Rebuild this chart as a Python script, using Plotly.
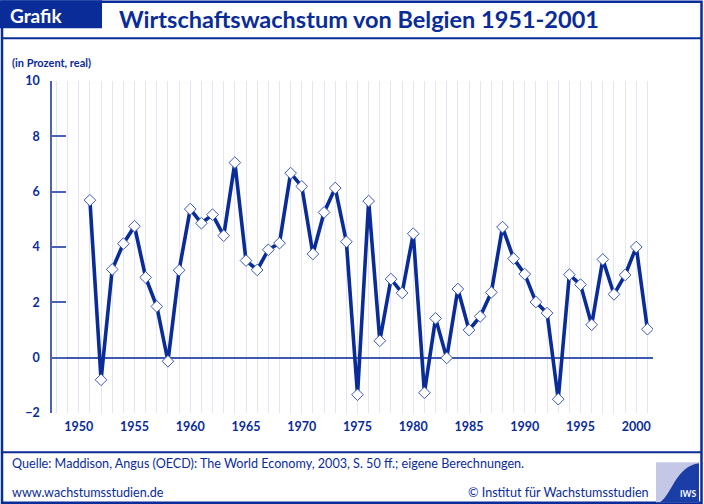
import plotly.graph_objects as go

years = list(range(1951, 2002))
growth = [5.69, -0.80, 3.19, 4.12, 4.75, 2.90, 1.85, -0.13, 3.16, 5.37,
          4.86, 5.17, 4.41, 7.05, 3.51, 3.17, 3.90, 4.14, 6.67, 6.19,
          3.75, 5.25, 6.13, 4.19, -1.34, 5.66, 0.61, 2.84, 2.34, 4.48,
          -1.27, 1.42, -0.01, 2.48, 1.00, 1.49, 2.36, 4.72, 3.58, 3.02,
          2.01, 1.61, -1.50, 3.00, 2.64, 1.19, 3.55, 2.29, 2.99, 4.00,
          1.03]
x_ticks = list(range(1950, 2001, 5))
y_ticks = list(range(-2, 11, 2))

W, H = 704, 504
L, R, T, B = 52, 653, 80.7, 412.7
DARK = "#0a2c98"
AXIS = "#4a62b6"
FONT = "Lato"

def px(x):
    return (x - L) / (R - L)

def py(y):
    return (B - y) / (B - T)

def pt(a, b):
    return f"{px(a):.5f},{py(b):.5f}"

fig = go.Figure()
fig.add_trace(go.Scatter(
    x=years, y=growth, mode="lines+markers",
    line=dict(color=DARK, width=3.6),
    marker=dict(symbol="diamond", size=9, color="white",
                line=dict(color="#3a58b8", width=1)),
    showlegend=False, hoverinfo="x+y"))

fig.update_layout(
    width=W, height=H, autosize=False,
    margin=dict(l=L, r=W - R, t=T, b=H - B, pad=0),
    paper_bgcolor="white", plot_bgcolor="white",
    font=dict(family=FONT, color=DARK),
    xaxis=dict(range=[1947.6, 2001.5], tickvals=x_ticks,
               showgrid=True, gridcolor="#e4e4f3", gridwidth=1,
               minor=dict(dtick=1, tick0=1950, showgrid=True,
                          gridcolor="#e4e4f3", gridwidth=1),
               showline=False, zeroline=False, ticks="",
               tickfont=dict(family=FONT, size=12.5, color=DARK, weight="bold"),
               ticklabelstandoff=4),
    yaxis=dict(range=[-2, 10], tickvals=y_ticks, showgrid=False,
               showline=True, linecolor=AXIS, linewidth=1.5,
               ticks="inside", ticklen=14, tickcolor=AXIS, tickwidth=1.5,
               zeroline=True, zerolinecolor="#3f58b0", zerolinewidth=1.5,
               tickfont=dict(family=FONT, size=12.5, color=DARK, weight="bold"),
               ticklabelstandoff=8),
)

shapes = []
# outer frame
shapes.append(dict(type="rect", xref="paper", yref="paper",
                   x0=px(2), x1=px(701.5), y0=py(502.5), y1=py(1.5),
                   line=dict(color=DARK, width=2.5), layer="above"))
# header box
shapes.append(dict(type="rect", xref="paper", yref="paper",
                   x0=px(0), x1=px(102), y0=py(28), y1=py(0),
                   fillcolor=DARK, line=dict(width=0), layer="above"))
# header separator
shapes.append(dict(type="line", xref="paper", yref="paper",
                   x0=px(2), x1=px(701.5), y0=py(38), y1=py(38),
                   line=dict(color=DARK, width=2)))
# footer separator
shapes.append(dict(type="line", xref="paper", yref="paper",
                   x0=px(2), x1=px(701.5), y0=py(452), y1=py(452),
                   line=dict(color=DARK, width=2)))
# logo
shapes.append(dict(type="rect", xref="paper", yref="paper",
                   x0=px(656), x1=px(699), y0=py(502), y1=py(462),
                   fillcolor="#c4c8e6", line=dict(width=0), layer="above"))
d = (f"M {pt(660, 502)} C {pt(672, 494)} {pt(676, 466)} {pt(699, 463)} "
     f"L {pt(699, 502)} Z")
shapes.append(dict(type="path", xref="paper", yref="paper", path=d,
                   fillcolor="#1a3ea5", line=dict(width=0), layer="above"))
fig.update_layout(shapes=shapes)

ann = []
ann.append(dict(text="<b>Grafik</b>", x=px(8), y=py(15), xanchor="left",
                yanchor="middle", font=dict(family=FONT, size=19, color="white")))
ann.append(dict(text="<b>Wirtschaftswachstum von Belgien 1951-2001</b>",
                x=px(117), y=py(19), xanchor="left", yanchor="middle",
                font=dict(family=FONT, size=23.5, color=DARK)))
ann.append(dict(text="<b>(in Prozent, real)</b>", x=px(10), y=py(62),
                xanchor="left", yanchor="middle",
                font=dict(family=FONT, size=11, color=DARK)))
ann.append(dict(text="Quelle: Maddison, Angus (OECD): The World Economy, 2003, S. 50 ff.; eigene Berechnungen.",
                x=px(10), y=py(463), xanchor="left", yanchor="middle",
                font=dict(family=FONT, size=12.6, color=DARK)))
ann.append(dict(text="www.wachstumsstudien.de", x=px(10), y=py(492),
                xanchor="left", yanchor="middle",
                font=dict(family=FONT, size=12.6, color=DARK)))
ann.append(dict(text="© Institut für Wachstumsstudien", x=px(651), y=py(492),
                xanchor="right", yanchor="middle",
                font=dict(family=FONT, size=12.6, color=DARK)))
ann.append(dict(text="<b>IWS</b>", x=px(688), y=py(494), xanchor="center",
                yanchor="middle", font=dict(family=FONT, size=8.5, color="white")))
for a in ann:
    a.update(xref="paper", yref="paper", showarrow=False)
fig.update_layout(annotations=ann)

fig.write_html("out.html", config={"displayModeBar": False},
               post_script="document.body.style.margin='0';document.body.style.overflow='hidden';")
